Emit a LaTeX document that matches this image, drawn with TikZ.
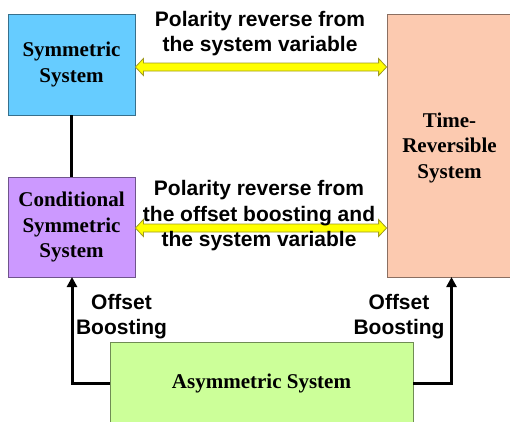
\documentclass[tikz,border=0pt]{standalone}
\usepackage{fontspec}
\setmainfont{Liberation Serif}
\newfontfamily\arialf{Liberation Sans}
\usetikzlibrary{calc,arrows.meta}
\definecolor{symblue}{HTML}{66CCFF}
\definecolor{condpurple}{HTML}{CC99FF}
\definecolor{timepeach}{HTML}{FCCAB0}
\definecolor{asymgreen}{HTML}{CCFF99}
\definecolor{yfill}{HTML}{FFFF00}
\definecolor{yline}{HTML}{A09A20}
\tikzset{
  sysbox/.style={draw=#1!55!black, line width=0.8pt, inner sep=0pt, align=center,
    font=\fontsize{21}{25.5}\selectfont\bfseries},
  lbl/.style={align=center, font=\arialf\fontsize{21}{25.5}\selectfont\bfseries, inner sep=0pt},
  conn/.style={line width=3pt, -{Triangle[length=10pt,width=10pt]}},
  plainconn/.style={line width=3pt},
  yarrow/.style={fill=yfill, draw=yline, line width=0.8pt, line join=miter}
}
\newcommand{\yellowarrow}[2]{%
  \draw[yarrow] (#1) -- ++(8,-8.5) -- ++(0,4.5) -- ($(#2)+(-8,-4)$) -- ++(0,-4.5) -- (#2)
    -- ++(-8,8.5) -- ++(0,-4.5) -- ($(#1)+(8,4)$) -- ++(0,4.5) -- cycle;}
\begin{document}
\begin{tikzpicture}[x=1pt,y=-1pt]
\useasboundingbox (0,0) rectangle (510,421);
\node[sysbox=symblue, fill=symblue, minimum width=127pt, minimum height=101pt] (S) at (71.5,64.5) {Symmetric\\System};
\node[sysbox=condpurple, fill=condpurple, minimum width=127pt, minimum height=100pt] (C) at (71.5,227) {Conditional\\Symmetric\\System};
\node[sysbox=timepeach, fill=timepeach, minimum width=126pt, minimum height=263pt] (T) at (450,145.5) {};
\node[font=\fontsize{21}{25.5}\selectfont\bfseries, align=center, inner sep=0pt] (TL) at (449.5,147.5) {Time-\\Reversible\\System};
\node[sysbox=asymgreen, fill=asymgreen, minimum width=303pt, minimum height=82pt] (A) at (261.5,383) {Asymmetric System};
\draw[plainconn] (S.south) -- (C.north);
\coordinate (ts) at (451.5,277);
\coordinate (cs) at (72,277);
\draw[conn] (A.west) -| (cs);
\draw[conn] (A.east) -| (ts);
\coordinate (y1a) at ($(S.east)+(0,2.5)$);
\coordinate (y1b) at (T.west |- y1a);
\yellowarrow{y1a}{y1b}
\coordinate (y2a) at ($(C.east)+(0,1)$);
\coordinate (y2b) at (T.west |- y2a);
\yellowarrow{y2a}{y2b}
\node[lbl] (L1) at (260,33.5) {Polarity reverse from\\the system variable};
\node[lbl] (L2) at (259,216) {Polarity reverse from\\the offset boosting and\\the system variable};
\node[lbl] (O1) at (121.5,316.5) {Offset\\Boosting};
\node[lbl] (O2) at (399,316.5) {Offset\\Boosting};
\end{tikzpicture}
\end{document}
